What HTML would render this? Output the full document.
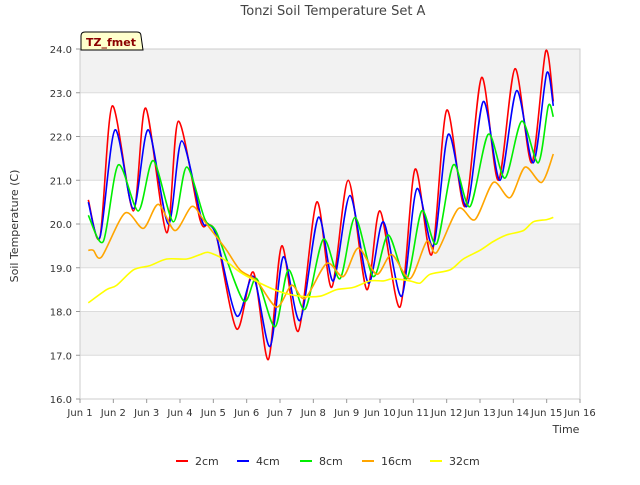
<!DOCTYPE html>
<html><head><meta charset="utf-8"><style>
body{margin:0;background:#fff;font-family:"Liberation Sans","DejaVu Sans",sans-serif}
svg text{font-family:"DejaVu Sans","Liberation Sans",sans-serif}
</style></head><body>
<svg id="c" width="640" height="480" xmlns="http://www.w3.org/2000/svg">
<rect x="0" y="0" width="640" height="480" fill="#fff"/>
<g id="bands"></g><g id="grid"></g>
<rect x="80" y="49" width="500" height="350" fill="none" stroke="#ccc"/>
<g id="axes"></g><g id="series"></g>
<text x="333" y="15" text-anchor="middle" font-size="13" fill="#444">Tonzi Soil Temperature Set A</text>
<text x="566" y="433" text-anchor="middle" font-size="11" fill="#333">Time</text>
<text x="18" y="226" text-anchor="middle" font-size="11" fill="#333" transform="rotate(-90 18 226)">Soil Temperature (C)</text>
<g>
<path d="M81,50 L81,36 Q81,32 85,32 L137,32 Q141,32 141,36 L143,50 Z" fill="#ffffcc" stroke="#000"/>
<text x="111" y="46" text-anchor="middle" font-size="11" font-weight="bold" fill="#8b0000">TZ_fmet</text></g>
<g id="legend"></g>
</svg>
<script>
const yTicks=[16,17,18,19,20,21,22,23,24];
const xTickLabels=["Jun 1","Jun 2","Jun 3","Jun 4","Jun 5","Jun 6","Jun 7","Jun 8","Jun 9","Jun 10","Jun 11","Jun 12","Jun 13","Jun 14","Jun 15","Jun 16"];
const seriesNames=["2cm","4cm","8cm","16cm","32cm"];
const seriesColors=["#ff0000","#0000ff","#00ee00","#ffa500","#ffff00"];
const t2=[1.25,1.6,1.97,2.6,2.97,3.6,3.95,4.6,4.85,5.1,5.7,6.2,6.65,7.05,7.55,8.1,8.55,9.05,9.6,10.0,10.6,11.05,11.55,12.0,12.55,13.05,13.55,14.05,14.55,14.97,15.2];
const v2=[20.55,19.7,22.7,20.3,22.65,19.8,22.35,20.1,20.0,19.7,17.6,18.9,16.9,19.5,17.55,20.5,18.55,21.0,18.5,20.3,18.1,21.25,19.3,22.6,20.4,23.35,21.0,23.55,21.4,23.95,22.8];
const t4=[1.25,1.6,2.05,2.6,3.05,3.65,4.05,4.65,4.85,5.1,5.7,6.2,6.7,7.1,7.6,8.15,8.6,9.1,9.65,10.1,10.65,11.1,11.6,12.05,12.6,13.1,13.6,14.1,14.6,15.0,15.2];
const v4=[20.5,19.7,22.15,20.35,22.15,20.0,21.9,20.1,20.0,19.7,17.9,18.8,17.2,19.25,17.8,20.15,18.7,20.65,18.65,20.05,18.35,20.8,19.5,22.05,20.4,22.8,21.0,23.05,21.4,23.45,22.7];
const t8=[1.25,1.7,2.15,2.75,3.2,3.8,4.2,4.75,5.1,5.9,6.3,6.85,7.25,7.75,8.3,8.8,9.25,9.8,10.25,10.8,11.25,11.7,12.2,12.7,13.25,13.75,14.25,14.75,15.05,15.2];
const v8=[20.2,19.6,21.35,20.3,21.45,20.05,21.3,20.1,19.8,18.25,18.75,17.65,18.95,18.05,19.65,18.75,20.15,18.8,19.75,18.75,20.3,19.55,21.35,20.4,22.05,21.05,22.35,21.4,22.7,22.45];
const t16=[1.25,1.4,1.65,2.35,2.9,3.35,3.85,4.35,4.7,5.0,5.4,5.8,6.3,6.9,7.35,7.75,8.4,8.9,9.35,9.9,10.35,10.9,11.4,11.7,12.35,12.85,13.4,13.9,14.35,14.85,15.2];
const v16=[19.4,19.4,19.25,20.25,19.9,20.45,19.85,20.4,20.1,19.8,19.4,18.95,18.7,18.1,18.6,18.3,19.1,18.8,19.45,18.85,19.3,18.75,19.6,19.35,20.35,20.1,20.95,20.6,21.3,20.95,21.6];
const t32=[1.25,1.8,2.1,2.6,3.1,3.6,4.2,4.6,4.85,5.3,5.8,6.4,7.0,7.6,8.2,8.7,9.2,9.7,10.1,10.4,10.9,11.2,11.5,12.1,12.5,13.0,13.4,13.8,14.3,14.6,15.0,15.2];
const v32=[18.2,18.5,18.6,18.95,19.05,19.2,19.2,19.3,19.35,19.2,18.9,18.65,18.45,18.35,18.35,18.5,18.55,18.7,18.7,18.75,18.7,18.65,18.85,18.95,19.2,19.4,19.6,19.75,19.85,20.05,20.1,20.15];
const X=d=>80+(d-1)*500/15, Y=v=>399-(v-16)*350/8;
const NS="http://www.w3.org/2000/svg";
function mk(tag,attrs,parent){const e=document.createElementNS(NS,tag);for(const k in attrs)e.setAttribute(k,attrs[k]);parent.appendChild(e);return e;}
const bands=document.getElementById('bands'),grid=document.getElementById('grid'),axes=document.getElementById('axes');
for(let i=0;i<yTicks.length-1;i++){if(i%2===1){const b=mk('rect',{x:80,y:Y(yTicks[i+1]),width:500,height:Y(yTicks[i])-Y(yTicks[i+1]),fill:'#f2f2f2'},bands);

}}
yTicks.forEach(v=>{const l=mk('line',{x1:80,x2:580,y1:Y(v),y2:Y(v),stroke:'#dcdcdc'},grid);


mk('line',{x1:76,x2:80,y1:Y(v),y2:Y(v),stroke:'#999'},axes);
const t=mk('text',{x:72,y:Y(v)+4,'text-anchor':'end','font-size':10,fill:'#333'},axes);t.textContent=v.toFixed(1);

});
xTickLabels.forEach((s,i)=>{mk('line',{x1:X(i+1),x2:X(i+1),y1:399,y2:403,stroke:'#999'},axes);
const t=mk('text',{x:X(i+1),y:416,'text-anchor':'middle','font-size':10,fill:'#333'},axes);t.textContent=s;

});
function path(ts,vs){const p=ts.map((t,i)=>[X(t),Y(vs[i])]);let d='M'+p[0][0].toFixed(1)+','+p[0][1].toFixed(1);
for(let i=0;i<p.length-1;i++){const p0=p[Math.max(0,i-1)],p1=p[i],p2=p[i+1],p3=p[Math.min(p.length-1,i+2)];
const c1=[p1[0]+(p2[0]-p0[0])/7,p1[1]+(p2[1]-p0[1])/7],c2=[p2[0]-(p3[0]-p1[0])/7,p2[1]-(p3[1]-p1[1])/7];
d+=' C'+c1.map(n=>n.toFixed(1))+' '+c2.map(n=>n.toFixed(1))+' '+p2.map(n=>n.toFixed(1));}return d;}
const S=document.getElementById('series');
const data=[[t2,v2],[t4,v4],[t8,v8],[t16,v16],[t32,v32]];
data.forEach((s,i)=>{const e=mk('path',{d:path(s[0],s[1]),fill:'none',stroke:seriesColors[i],'stroke-width':1.6},S);

});
const L=document.getElementById('legend');
const lx=[176,237,300,362,430];
seriesNames.forEach((n,i)=>{const g=mk('g',{},L);


mk('line',{x1:lx[i],x2:lx[i]+12,y1:461,y2:461,stroke:seriesColors[i],'stroke-width':2},g);
const t=mk('text',{x:lx[i]+19,y:465,'font-size':11,fill:'#333'},g);t.textContent=n;});
</script>
</body></html>
